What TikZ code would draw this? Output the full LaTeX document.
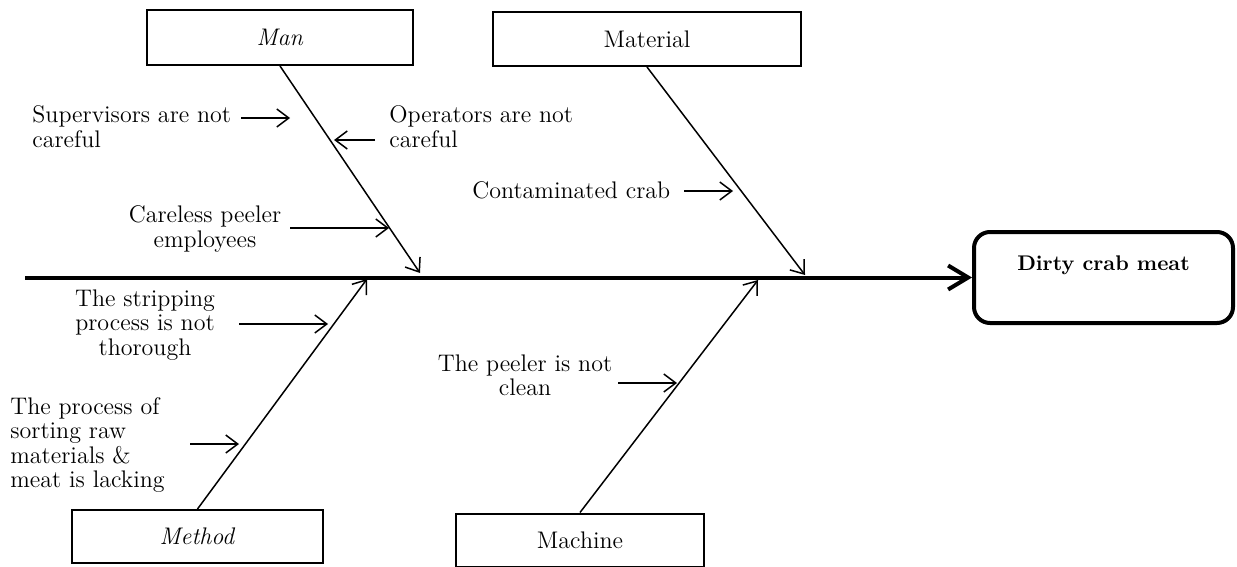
\documentclass[tikz,border=0pt]{standalone}
\usetikzlibrary{arrows.meta}

\begin{document}
\begin{tikzpicture}[%
      x=0.5pt, y=-0.5pt,
      >={Straight Barb[length=6pt,width=9pt]},
      catbox/.style={draw, line width=1pt, inner sep=0pt,
        font=\fontsize{12pt}{12.2pt}\selectfont},
      effectbox/.style={draw, line width=2pt, rounded corners=8pt,
        inner xsep=0pt, inner ysep=4pt, text height=15pt, text depth=22.5pt,
        font=\fontsize{10.6pt}{12pt}\selectfont\bfseries},
      bone/.style={line width=0.75pt, ->},
      cause/.style={inner sep=0pt, font=\fontsize{12pt}{12.2pt}\selectfont},
      ]
      \useasboundingbox (0,0) rectangle (1237,567);

      % categories and effect
      \node [catbox, minimum width=133pt, minimum height=27.5pt] (man) at (280,37.5) {\textit{Man}};
      \node [catbox, minimum width=154pt, minimum height=27pt] (material) at (647,39) {Material};
      \node [catbox, minimum width=125.5pt, minimum height=26.5pt] (method) at (197.5,536.5) {\textit{Method}};
      \node [catbox, minimum width=124pt, minimum height=26.5pt] (machine) at (580,540) {Machine};
      \node [effectbox, minimum width=129.5pt] (effect) at (1103.5,277.5) {Dirty crab meat};

      % spine
      \coordinate (spinestart) at (25,277.5);
      \draw [line width=2pt, ->, >={Straight Barb[length=10pt,width=12pt]}] (spinestart) -- (effect.west);

      % bones
      \coordinate (mantip) at (420,273);
      \coordinate (materialtip) at (805,275);
      \coordinate (methodtip) at (367,279);
      \coordinate (machinetip) at (758,280);
      \draw [bone] (man.south) -- (mantip);
      \draw [bone] (material.south) -- (materialtip);
      \draw [bone] (method.north) -- (methodtip);
      \draw [bone] (machine.north) -- (machinetip);

      % causes
      \node [cause, anchor=west, align=left] (supervisors) at (32,126.5) {Supervisors are not\\careful};
      \node [cause, anchor=west, align=left] (operators) at (389,126.5) {Operators are not\\careful};
      \node [cause, align=center] (careless) at (205,229) {Careless peeler\\employees};
      \node [cause, anchor=west] (contaminated) at (472,190) {Contaminated crab};
      \node [cause, align=center] (stripping) at (145,325) {The stripping\\process is not\\thorough};
      \node [cause, anchor=west, align=left] (sorting) at (10,445) {The process of\\sorting raw\\materials \&\\meat is lacking};
      \node [cause, align=center] (peeler) at (525,375.5) {The peeler is not\\clean};

      \coordinate (supervisors-a) at (241,118);
      \coordinate (supervisors-b) at (290,118);
      \coordinate (operators-a) at (375,140);
      \coordinate (operators-b) at (334,140);
      \coordinate (careless-a) at (290,228);
      \coordinate (careless-b) at (389,228);
      \coordinate (contaminated-a) at (684,191);
      \coordinate (contaminated-b) at (733,191);
      \coordinate (stripping-a) at (239,324);
      \coordinate (stripping-b) at (328,324);
      \coordinate (sorting-a) at (190,444);
      \coordinate (sorting-b) at (239,444);
      \coordinate (peeler-a) at (618,383);
      \coordinate (peeler-b) at (677,383);

      \draw [bone] (supervisors-a) -- (supervisors-b);
      \draw [bone] (operators-a) -- (operators-b);
      \draw [bone] (careless-a) -- (careless-b);
      \draw [bone] (contaminated-a) -- (contaminated-b);
      \draw [bone] (stripping-a) -- (stripping-b);
      \draw [bone] (sorting-a) -- (sorting-b);
      \draw [bone] (peeler-a) -- (peeler-b);
      \end{tikzpicture}
\end{document}
